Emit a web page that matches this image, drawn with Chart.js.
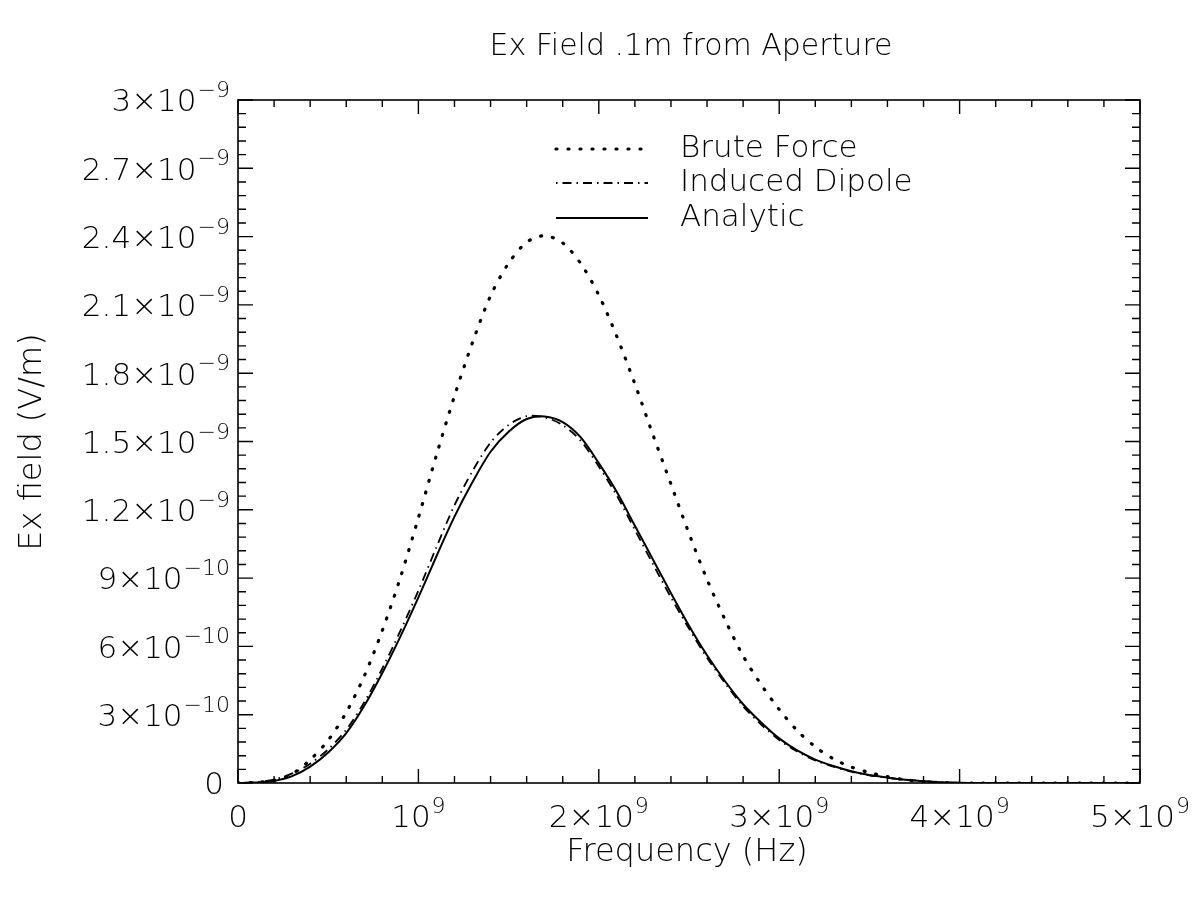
<!DOCTYPE html>
<html>
<head>
<meta charset="utf-8">
<script src="https://cdn.jsdelivr.net/npm/chart.js@4.4.1/dist/chart.umd.min.js"></script>
<style>
  html, body { margin: 0; padding: 0; background: #fff; }
  #wrap { width: 1195px; height: 903px; }
</style>
</head>
<body>
<div id="wrap"><canvas id="fieldChart" width="1195" height="903"></canvas></div>
<script>
// frequency samples, in units of 1e9 Hz
const freqGHz = [
  0.0, 0.1, 0.2, 0.3, 0.4, 0.5, 0.6, 0.7, 0.8, 0.9,
  1.0, 1.1, 1.2, 1.3, 1.4, 1.5, 1.6, 1.7, 1.8, 1.9,
  2.0, 2.1, 2.2, 2.3, 2.4, 2.5, 2.6, 2.7, 2.8, 2.9,
  3.0, 3.1, 3.2, 3.3, 3.4, 3.5, 3.6, 3.7, 3.8, 3.9,
  4.0, 4.1, 4.2, 4.3, 4.4, 4.5, 4.6, 4.7, 4.8, 4.9, 5.0
];

// Ex field, in units of 1e-9 V/m
const bruteForce = [
  0.000, 0.003, 0.012, 0.040, 0.102, 0.188, 0.310, 0.470, 0.670, 0.902,
  1.165, 1.440, 1.700, 1.935, 2.140, 2.283, 2.375, 2.404, 2.372, 2.282,
  2.143, 1.961, 1.753, 1.530, 1.313, 1.096, 0.894, 0.717, 0.558, 0.432,
  0.323, 0.230, 0.159, 0.106, 0.070, 0.046, 0.028, 0.014, 0.006, 0.002,
  0.000, 0.000, 0.000, 0.000, 0.000, 0.000, 0.000, 0.000, 0.000, 0.000, 0.000
];
const inducedDipole = [
  0.000, 0.004, 0.015, 0.042, 0.085, 0.148, 0.234, 0.355, 0.503, 0.668,
  0.845, 1.036, 1.220, 1.370, 1.495, 1.573, 1.611, 1.606, 1.572, 1.503,
  1.390, 1.262, 1.112, 0.962, 0.815, 0.678, 0.550, 0.438, 0.337, 0.257,
  0.189, 0.138, 0.099, 0.072, 0.050, 0.034, 0.023, 0.014, 0.008, 0.003,
  0.001, 0.000, 0.000, 0.000, 0.000, 0.000, 0.000, 0.000, 0.000, 0.000, 0.000
];
const analytic = [
  0.000, 0.002, 0.009, 0.030, 0.072, 0.134, 0.219, 0.339, 0.483, 0.643,
  0.815, 0.996, 1.170, 1.322, 1.455, 1.543, 1.599, 1.610, 1.585, 1.518,
  1.405, 1.278, 1.130, 0.982, 0.834, 0.691, 0.561, 0.447, 0.346, 0.266,
  0.196, 0.143, 0.103, 0.075, 0.052, 0.035, 0.024, 0.014, 0.008, 0.003,
  0.001, 0.000, 0.000, 0.000, 0.000, 0.000, 0.000, 0.000, 0.000, 0.000, 0.000
];

const seriesNames = ['Brute Force', 'Induced Dipole', 'Analytic'];

// tick labels, "^" marks the start of the exponent
const xTickValues = [0, 1e9, 2e9, 3e9, 4e9, 5e9];
const xTickLabels = ['0', '10^9', '2×10^9', '3×10^9', '4×10^9', '5×10^9'];
const yTickValues = [0, 3e-10, 6e-10, 9e-10, 1.2e-9, 1.5e-9, 1.8e-9, 2.1e-9, 2.4e-9, 2.7e-9, 3e-9];
const yTickLabels = ['0', '3×10^−10', '6×10^−10', '9×10^−10', '1.2×10^−9', '1.5×10^−9',
                     '1.8×10^−9', '2.1×10^−9', '2.4×10^−9', '2.7×10^−9', '3×10^−9'];

const FONT = "'DejaVu Sans', sans-serif";
const W = '200 ';

function toPoints(values) {
    return freqGHz.map((f, i) => ({x: f * 1e9, y: values[i] * 1e-9}));
}

// label with a raised exponent; anchor: 'center' or 'right'
function drawSupLabel(ctx, text, ax, cy, anchor) {
    const parts = text.split('^');
    const baseFont = W + '31px ' + FONT, supFont = W + '22px ' + FONT;
    ctx.font = baseFont;
    const wb = ctx.measureText(parts[0]).width;
    ctx.font = supFont;
    const ws = parts[1] ? ctx.measureText(parts[1]).width + 1 : 0;
    const total = wb + ws;
    const x0 = anchor === 'center' ? ax - total / 2 : ax - total;
    ctx.textAlign = 'left';
    ctx.textBaseline = 'alphabetic';
    ctx.font = baseFont;
    ctx.fillText(parts[0], x0, cy + 11.3);
    if (parts[1]) {
        ctx.font = supFont;
        ctx.fillText(parts[1], x0 + wb + 1, cy - 3);
    }
}

const framePlugin = {
    id: 'frame',
    afterDraw(chart) {
        const {ctx, chartArea: {left, right, top, bottom}, scales: {x, y}} = chart;
        ctx.save();
        ctx.strokeStyle = '#000';
        ctx.fillStyle = '#000';
        ctx.lineWidth = 1.6;
        ctx.strokeRect(left, top, right - left, bottom - top);

        // inward ticks on all four sides
        ctx.lineWidth = 1.4;
        ctx.beginPath();
        for (let i = 0; i <= 25; i++) {
            const px = x.getPixelForValue(i * 2e8);
            const len = i % 5 === 0 ? 14 : 7;
            ctx.moveTo(px, bottom); ctx.lineTo(px, bottom - len);
            ctx.moveTo(px, top); ctx.lineTo(px, top + len);
        }
        for (let i = 0; i <= 50; i++) {
            const py = y.getPixelForValue(i * 6e-11);
            const len = i % 5 === 0 ? 15 : 8;
            ctx.moveTo(left, py); ctx.lineTo(left + len, py);
            ctx.moveTo(right, py); ctx.lineTo(right - len, py);
        }
        ctx.stroke();

        // tick labels
        xTickValues.forEach((v, i) => {
            drawSupLabel(ctx, xTickLabels[i], x.getPixelForValue(v), 816, 'center');
        });
        yTickValues.forEach((v, i) => {
            const lab = yTickLabels[i];
            drawSupLabel(ctx, lab, lab.includes('^') ? 230 : 224, y.getPixelForValue(v), 'right');
        });

        // titles
        ctx.textAlign = 'center';
        ctx.textBaseline = 'middle';
        ctx.font = W + '30px ' + FONT;
        ctx.fillText('Ex Field .1m from Aperture', 691, 47);
        ctx.font = W + '32px ' + FONT;
        ctx.fillText('Frequency (Hz)', 687, 853);
        ctx.save();
        ctx.translate(33, 442);
        ctx.rotate(-Math.PI / 2);
        ctx.fillText('Ex field (V/m)', 0, 0);
        ctx.restore();

        // legend inside the plot
        const rows = [149, 183, 218];
        chart.data.datasets.forEach((ds, i) => {
            ctx.save();
            ctx.strokeStyle = '#000';
            ctx.lineWidth = ds.borderWidth;
            ctx.lineCap = ds.borderCapStyle || 'butt';
            ctx.setLineDash(ds.borderDash || []);
            ctx.beginPath();
            ctx.moveTo(556, rows[i]);
            ctx.lineTo(648, rows[i]);
            ctx.stroke();
            ctx.restore();
            ctx.font = W + '31px ' + FONT;
            ctx.textAlign = 'left';
            ctx.textBaseline = 'middle';
            ctx.fillText(ds.label, 680, rows[i]);
        });
        ctx.restore();
    }
};

new Chart(document.getElementById('fieldChart'), {
    type: 'line',
    data: {
        datasets: [
            {
                label: seriesNames[0], data: toPoints(bruteForce),
                borderColor: '#000', borderWidth: 3.2, borderDash: [1, 11], borderCapStyle: 'round',
                pointRadius: 0, fill: false, tension: 0.3
            },
            {
                label: seriesNames[1], data: toPoints(inducedDipole),
                borderColor: '#000', borderWidth: 1.8, borderDash: [1.5, 5, 9, 5],
                pointRadius: 0, fill: false, tension: 0.3
            },
            {
                label: seriesNames[2], data: toPoints(analytic),
                borderColor: '#000', borderWidth: 2,
                pointRadius: 0, fill: false, tension: 0.3
            }
        ]
    },
    options: {
        responsive: false,
        animation: false,
        devicePixelRatio: 1,
        layout: {padding: {top: 100, right: 55, left: 0, bottom: 0}},
        plugins: {legend: {display: false}, tooltip: {enabled: false}},
        scales: {
            x: {
                type: 'linear', min: 0, max: 5e9,
                ticks: {display: false, stepSize: 1e9},
                grid: {display: false}, border: {display: false},
                afterFit(s) { s.height = 120; }
            },
            y: {
                type: 'linear', min: 0, max: 3e-9,
                ticks: {display: false, stepSize: 3e-10},
                grid: {display: false}, border: {display: false},
                afterFit(s) { s.width = 238; }
            }
        }
    },
    plugins: [framePlugin]
});
</script>
</body>
</html>
